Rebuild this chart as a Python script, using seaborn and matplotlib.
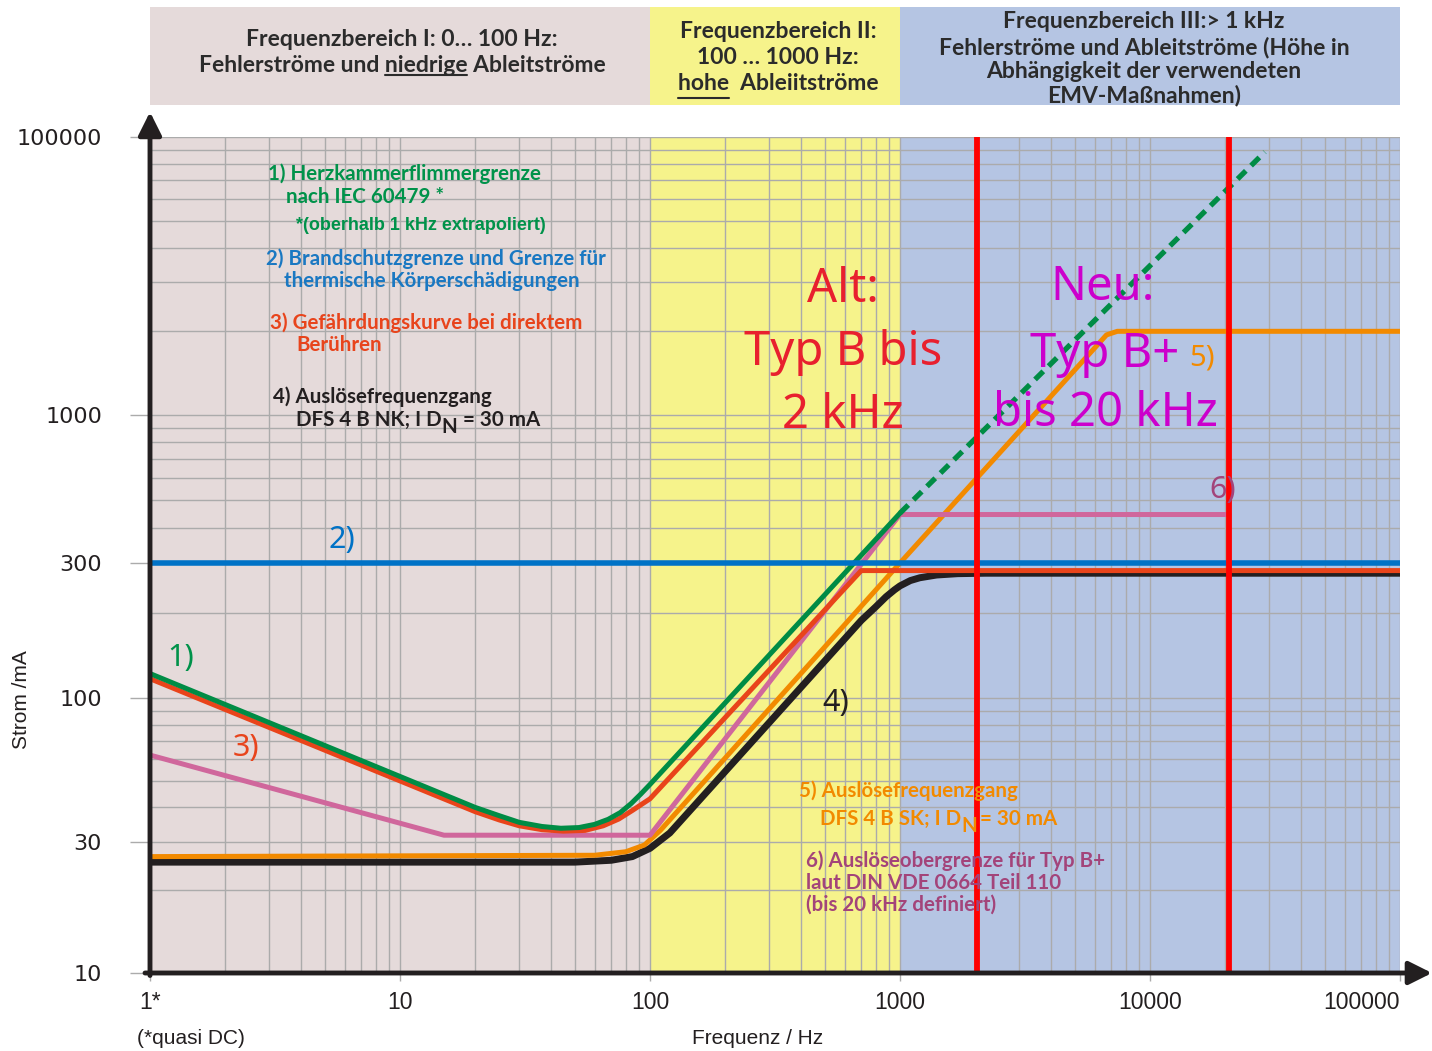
import numpy as np
import pandas as pd
import matplotlib
matplotlib.use("Agg")
import matplotlib.pyplot as plt
from matplotlib.lines import Line2D
import seaborn as sns

# frequency in Hz, current in mA
f_green = [1, 20, 25, 30, 37, 44, 52, 60, 68, 76, 84, 92, 100, 1000]
i_green = [122, 40, 37.3, 35.3, 34.1, 33.6, 33.8, 34.7, 36.2, 38.3, 41.3, 44.8, 48.5, 450]
f_green_ext = [1000, 28800]
i_green_ext = [450, 78000]

f_blue = [1, 100000]
i_blue = [300, 300]

f_red = [1, 20, 25, 30, 37, 45, 55, 65, 75, 85, 100, 700, 100000]
i_red = [117, 38.6, 36, 34.3, 33.2, 32.8, 33, 34.3, 36.3, 39, 43, 282, 282]

f_black = [1, 50, 70, 85, 100, 120, 700, 800, 880, 950, 1000, 1100, 1200, 1400, 1700, 2200, 100000]
i_black = [25.3, 25.3, 25.7, 26.5, 28.4, 32.3, 188, 210, 228, 241, 249, 260, 266, 272, 275, 276, 276]

f_orange = [1, 60, 80, 95, 110, 1000, 6700, 7400, 100000]
i_orange = [26.5, 26.8, 27.6, 29.2, 33, 300, 3770, 4000, 4000]

f_pink = [1, 15, 100, 1000, 20700]
i_pink = [62, 31.7, 31.7, 445, 445]

f_limits = [2040, 20700]

band_edges = [1, 100, 1000, 100000]
band_colors = ["#e5dada", "#f6f38b", "#b5c5e3"]

x_ticks = [1, 10, 100, 1000, 10000, 100000]
x_labels = ["1*", "10", "100", "1000", "10000", "100000"]
y_ticks = [10, 30, 100, 300, 1000, 100000]
y_labels = ["10", "30", "100", "300", "1000", "100000"]
y_minor = [k * 10 for k in range(1, 10)] + [k * 100 for k in range(1, 10)] + [1000 * k * k for k in range(1, 10)]

header_1 = ["Frequenzbereich I: 0… 100 Hz:", "Fehlerströme und niedrige Ableitströme"]
header_2 = ["Frequenzbereich II:", "100 … 1000 Hz:", "hohe  Ableiitströme"]
header_3 = ["Frequenzbereich III:> 1 kHz", "Fehlerströme und Ableitströme (Höhe in",
            "Abhängigkeit der verwendeten", "EMV-Maßnahmen)"]

W, H = 1432, 1051
axis_c = "#231f20"

sns.set_theme(style="white")
plt.rcParams["font.family"] = ["Lato", "DejaVu Sans"]

fig = plt.figure(figsize=(W / 100, H / 100), dpi=100)
r = fig.canvas.get_renderer()


def fx(x):
    return x / W


def fy(y):
    return 1 - y / H


# the y axis of the original is uneven: 10-100 and 100-1000 are full decades,
# 1000-100000 is squeezed into the height of one decade
def fwd(y):
    ly = np.log10(np.clip(np.asarray(y, dtype=float), 1e-12, None))
    return np.where(ly <= 2, (ly - 1) * 275,
                    np.where(ly <= 3, 275 + (ly - 2) * 283, 558 + (ly - 3) * 139))


def inv(t):
    t = np.asarray(t, dtype=float)
    return np.where(t <= 275, 10.0 ** (1 + t / 275),
                    np.where(t <= 558, 10.0 ** (2 + (t - 275) / 283),
                             10.0 ** (3 + (t - 558) / 139)))


ax = fig.add_axes([150 / W, 1 - 973 / H, 1250 / W, 836 / H])
ax.set_xscale("log")
ax.set_yscale("function", functions=(fwd, inv))
ax.set_xlim(1, 100000)
ax.set_ylim(10, 100000)

for lo, hi, c in zip(band_edges[:-1], band_edges[1:], band_colors):
    ax.axvspan(lo, hi, color=c, lw=0, zorder=0)

lines = [
    (f_black, i_black, "#231f20", 5.0, 2),
    (f_orange, i_orange, "#f28a00", 3.6, 3),
    (f_pink, i_pink, "#d0679c", 3.6, 4),
    (f_red, i_red, "#e9441a", 3.6, 5),
    (f_green, i_green, "#008c45", 3.6, 6),
    (f_blue, i_blue, "#0072c6", 4.0, 7),
]
for fv, iv, c, lw, z in lines:
    df = pd.DataFrame({"f": fv, "i": iv})
    sns.lineplot(data=df, x="f", y="i", ax=ax, color=c, lw=lw, sort=False,
                 estimator=None, zorder=z, solid_joinstyle="round")

df_ext = pd.DataFrame({"f": f_green_ext, "i": i_green_ext})
sns.lineplot(data=df_ext, x="f", y="i", ax=ax, color="#008c45", lw=3.8, sort=False,
             estimator=None, linestyle=(0, (2.2, 1.4)), zorder=6)

for fl in f_limits:
    ax.axvline(fl, color="#ff0000", lw=4.2, zorder=8)

ax.set_xlim(1, 100000)
ax.set_ylim(10, 100000)
ax.set_xticks(x_ticks, x_labels)
ax.set_xticks([k * 10 ** d for d in range(5) for k in range(2, 10)], minor=True)
ax.set_yticks(y_ticks, y_labels)
ax.set_yticks(y_minor, minor=True)
ax.grid(which="both", color="#ababab", lw=1.0)
ax.set_axisbelow(True)
for s in ax.spines.values():
    s.set_visible(False)
ax.tick_params(axis="y", which="major", length=14.5, width=1, color="#ababab",
               pad=20, labelsize=16, labelcolor=axis_c, left=True)
ax.tick_params(axis="x", which="major", length=6, width=1, color="#ababab",
               pad=7, labelsize=16.5, labelcolor=axis_c, bottom=True)
ax.tick_params(which="minor", length=0)
for lbl in ax.get_yticklabels():
    lbl.set_fontfamily(["DejaVu Sans"])
for lbl in ax.get_xticklabels():
    lbl.set_fontfamily(["Liberation Sans Narrow", "Liberation Sans"])
ax.get_xticklabels()[-1].set_horizontalalignment("right")
ax.set_xlabel("")
ax.set_ylabel("")

arrow = dict(arrowstyle="-|>,head_length=0.7,head_width=0.35", lw=3.5, color=axis_c,
             shrinkA=0, shrinkB=0, mutation_scale=20)
ax.annotate("", xy=(0, 1.03), xytext=(0, -0.003), xycoords="axes fraction",
            arrowprops=arrow, annotation_clip=False, zorder=10)
ax.annotate("", xy=(1.0256, 0), xytext=(-0.004, 0), xycoords="axes fraction",
            arrowprops=arrow, annotation_clip=False, zorder=10)

# header boxes
hax = fig.add_axes([150 / W, 1 - 105 / H, 1250 / W, 98 / H])
hax.set_xscale("log")
hax.set_xlim(1, 100000)
hax.set_ylim(0, 1)
for lo, hi, c in zip(band_edges[:-1], band_edges[1:], band_colors):
    hax.axvspan(lo, hi, color=c, lw=0)
hax.axis("off")

head_kw = dict(fontsize=16.5, fontweight="bold", color="#2b2b2b", ha="center", va="center")


def underline(t, prefix, word):
    bb = t.get_window_extent(r)
    fp = t.get_fontproperties()
    full_w, _, d = r.get_text_width_height_descent(t.get_text(), fp, ismath=False)
    pw, _, _ = r.get_text_width_height_descent(prefix + word, fp, ismath=False)
    ww, _, _ = r.get_text_width_height_descent(word, fp, ismath=False)
    x0 = bb.x0 + (bb.width - full_w) / 2 + pw - ww
    yb = bb.y0 + d - 3
    fig.add_artist(Line2D([x0 / W, (x0 + ww) / W], [yb / H, yb / H],
                          color="#2b2b2b", lw=1.5, transform=fig.transFigure))


for txt, y in zip(header_1, [39, 65]):
    t = fig.text(fx(402), fy(y), txt, **head_kw)
underline(t, "Fehlerströme und ", "niedrige")
for txt, y in zip(header_2, [32, 58, 84]):
    t = fig.text(fx(778), fy(y), txt, **head_kw)
underline(t, "", "hohe")
for txt, y in zip(header_3, [22, 47, 71, 96]):
    fig.text(fx(1144), fy(y), txt, **head_kw)


def runs(x, y, parts, **kw):
    # parts: (text, gap before in px, baseline shift in px)
    for s, gap, dy in parts:
        x += gap
        t = fig.text(fx(x), fy(y + dy), s, ha="left", va="baseline", **kw)
        x += t.get_window_extent(r).width


note_kw = dict(fontsize=14.8, fontweight="bold")
green, blue, red3, black, orange, purple = ("#00924a", "#1a78c2", "#e8441c",
                                            "#231f20", "#f28a00", "#a3447a")
fig.text(fx(268), fy(174), "1) Herzkammerflimmergrenze", color=green, va="center", **note_kw)
fig.text(fx(286), fy(197), "nach IEC 60479 *", color=green, va="center", **note_kw)
fig.text(fx(296), fy(225), "*(oberhalb 1 kHz extrapoliert)", color=green, va="center",
         fontsize=13, fontweight="bold", family=["Liberation Sans", "DejaVu Sans"])
fig.text(fx(266), fy(259), "2) Brandschutzgrenze und Grenze für", color=blue, va="center", **note_kw)
fig.text(fx(284), fy(281), "thermische Körperschädigungen", color=blue, va="center", **note_kw)
fig.text(fx(270), fy(323), "3) Gefährdungskurve bei direktem", color=red3, va="center", **note_kw)
fig.text(fx(296), fy(345), "Berühren", color=red3, va="center", **note_kw)
fig.text(fx(273), fy(397), "4) Auslösefrequenzgang", color=black, va="center", **note_kw)
runs(296, 426, [("DFS 4 B NK; I D", 0, 0), ("N", 0, 7), ("= 30 mA", 6, 0)],
     color=black, **note_kw)
fig.text(fx(799), fy(791), "5) Auslösefrequenzgang", color=orange, va="center", **note_kw)
runs(820, 825, [("DFS 4 B SK; I D", 0, 0), ("N", 0, 7), ("= 30 mA", 3, 0)],
     color=orange, **note_kw)
fig.text(fx(806), fy(861), "6) Auslöseobergrenze für Typ B+", color=purple, va="center", **note_kw)
fig.text(fx(806), fy(883), "laut DIN VDE 0664 Teil 110", color=purple, va="center", **note_kw)
fig.text(fx(806), fy(905), "(bis 20 kHz definiert)", color=purple, va="center", **note_kw)

big_kw = dict(fontsize=34, family=["Noto Sans", "DejaVu Sans"], ha="center", va="center")
alt_c, neu_c = "#e8202e", "#cc00cc"
fig.text(fx(843), fy(290), "Alt:", color=alt_c, **big_kw)
fig.text(fx(843), fy(353), "Typ B bis", color=alt_c, **big_kw)
fig.text(fx(843), fy(416), "2 kHz", color=alt_c, **big_kw)
fig.text(fx(1103), fy(288), "Neu:", color=neu_c, **big_kw)
t = fig.text(fx(1030), fy(367), "Typ B+", color=neu_c, ha="left", va="baseline",
             fontsize=34, family=["Noto Sans", "DejaVu Sans"])
bb = t.get_window_extent(r)
fig.text((bb.x1 + 10) / W, fy(365), "5)", color=orange, ha="left", va="baseline",
         fontsize=21, family=["Noto Sans", "DejaVu Sans"])
fig.text(fx(1105), fy(414), "bis 20 kHz", color=neu_c, **big_kw)

num_kw = dict(fontsize=22, family=["Noto Sans", "DejaVu Sans"], ha="center", va="center")
fig.text(fx(342), fy(540), "2)", color="#0072c6", **num_kw)
fig.text(fx(181), fy(658), "1)", color=green, **num_kw)
fig.text(fx(246), fy(748), "3)", color=red3, **num_kw)
fig.text(fx(836), fy(703), "4)", color=black, **num_kw)
fig.text(fx(1223), fy(490), "6)", color=purple, fontweight="bold", **num_kw)

lab_kw = dict(fontsize=15, color=axis_c, family=["Liberation Sans Narrow", "Liberation Sans"],
              ha="center", va="center")
fig.text(fx(22), fy(700), "Strom /mA", rotation=90, **lab_kw)
fig.text(fx(758), fy(1038), "Frequenz / Hz", **lab_kw)
fig.text(fx(191), fy(1038), "(*quasi DC)", **lab_kw)

fig.savefig("out.png", dpi=100)
